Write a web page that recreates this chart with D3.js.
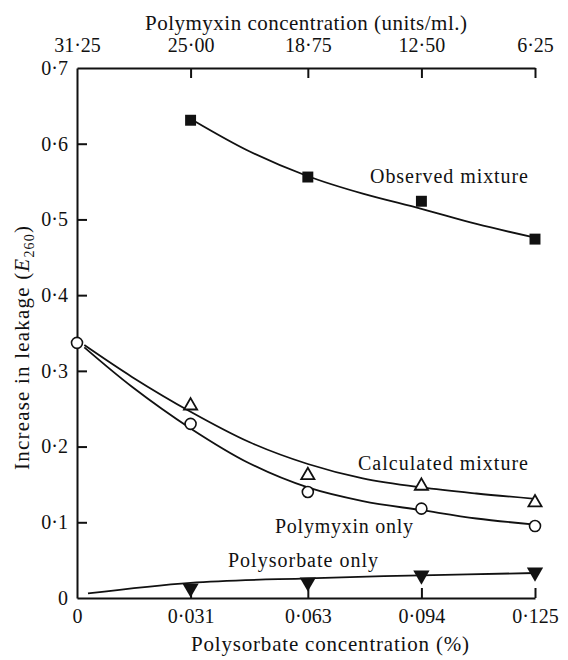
<!DOCTYPE html>
<html>
<head>
<meta charset="utf-8">
<script src="https://cdn.jsdelivr.net/npm/d3@7"></script>
<style>
  body { margin: 0; background: #fff; }
  svg { display: block; }
  svg text { font-family: "Liberation Serif", "Times New Roman", "DejaVu Serif", serif; }
</style>
</head>
<body>
<script>
// tick values and labels
const bottomTicks = [0, 0.031, 0.063, 0.094, 0.125];
const topTickLabels = ["31·25", "25·00", "18·75", "12·50", "6·25"];
const yTicks = [0, 0.1, 0.2, 0.3, 0.4, 0.5, 0.6, 0.7];

// measured points
const pointX = [0.031, 0.063, 0.094, 0.125];
const observedY = [0.631, 0.556, 0.524, 0.474];
const calculatedY = [0.254, 0.162, 0.148, 0.126];
const polymyxinX = [0, 0.031, 0.063, 0.094, 0.125];
const polymyxinY = [0.337, 0.230, 0.140, 0.118, 0.095];
const polysorbateY = [0.013, 0.021, 0.030, 0.034];

// fitted curves as drawn in the figure
const observedCurveX = [0.032, 0.047, 0.063, 0.078, 0.094, 0.109, 0.125];
const observedCurveY = [0.630, 0.590, 0.557, 0.534, 0.514, 0.494, 0.476];
const mixCurveX = [0.002, 0.015, 0.031, 0.047, 0.063, 0.078, 0.094, 0.109, 0.125];
const calculatedCurveY = [0.334, 0.292, 0.246, 0.206, 0.177, 0.158, 0.146, 0.138, 0.131];
const polymyxinCurveY = [0.331, 0.279, 0.224, 0.178, 0.146, 0.128, 0.116, 0.105, 0.097];
const polysorbateCurveX = [0.003, 0.031, 0.063, 0.094, 0.125];
const polysorbateCurveY = [0.006, 0.020, 0.026, 0.030, 0.033];

const width = 568, height = 660;
const margin = { top: 68, right: 33, bottom: 62, left: 77 };
const fmt = (v) => (v === 0 ? "0" : d3.format(".3f")(v).replace(".", "·"));
const fmtY = (v) => (v === 0 ? "0" : d3.format(".1f")(v).replace(".", "·"));

const x = d3.scaleLinear().domain([0, 0.125]).range([margin.left, width - margin.right]);
const y = d3.scaleLinear().domain([0, 0.7]).range([height - margin.bottom, margin.top]);

const svg = d3.select("body").append("svg")
  .attr("width", width)
  .attr("height", height);

const zip = (xs, ys) => xs.map((v, i) => [v, ys[i]]);
const line = d3.line().x((d) => x(d[0])).y((d) => y(d[1])).curve(d3.curveCatmullRom.alpha(0.5));

// axes
const styleAxis = (g) => {
  g.attr("font-family", null);
  g.select(".domain").attr("stroke", "#111").attr("stroke-width", 2);
  g.selectAll(".tick line").attr("stroke", "#111").attr("stroke-width", 2);
  g.selectAll(".tick text").attr("font-size", 20).attr("fill", "#111");
};

svg.append("g")
  .attr("transform", `translate(0,${y(0)})`)
  .call(d3.axisBottom(x).tickValues(bottomTicks).tickSize(-10).tickSizeOuter(0).tickPadding(11).tickFormat(fmt))
  .call(styleAxis)
  .call((g) => g.selectAll(".tick").filter((d) => d === 0).select("line").remove());

svg.append("g")
  .attr("transform", `translate(0,${y(0.7)})`)
  .call(d3.axisTop(x).tickValues(bottomTicks).tickSize(-10).tickSizeOuter(0).tickPadding(16)
    .tickFormat((d, i) => topTickLabels[i]))
  .call(styleAxis)
  .call((g) => g.selectAll(".tick").filter((d) => d === 0).select("line").remove());

svg.append("g")
  .attr("transform", `translate(${x(0)},0)`)
  .call(d3.axisLeft(y).tickValues(yTicks).tickSize(-10).tickSizeOuter(0).tickPadding(9).tickFormat(fmtY))
  .call(styleAxis)
  .call((g) => g.selectAll(".tick").filter((d) => d === 0 || d === 0.7).select("line").remove());

// axis titles
svg.append("text")
  .attr("x", 145)
  .attr("y", 30)
  .attr("font-size", 21)
  .attr("textLength", 322)
  .attr("lengthAdjust", "spacing")
  .attr("fill", "#111")
  .text("Polymyxin concentration (units/ml.)");

svg.append("text")
  .attr("x", 191)
  .attr("y", 651)
  .attr("font-size", 21)
  .attr("textLength", 278)
  .attr("lengthAdjust", "spacing")
  .attr("fill", "#111")
  .text("Polysorbate concentration (%)");

const yTitle = svg.append("text")
  .attr("transform", `translate(29,${y(0.331)}) rotate(-90)`)
  .attr("text-anchor", "middle")
  .attr("font-size", 21)
  .attr("letter-spacing", 1.2)
  .attr("fill", "#111");
yTitle.append("tspan").text("Increase in leakage (");
yTitle.append("tspan").attr("font-style", "italic").text("E");
yTitle.append("tspan").attr("font-size", 14).attr("dy", 5).text("260");
yTitle.append("tspan").attr("dy", -5).text(")");

// curves
const curves = [
  zip(observedCurveX, observedCurveY),
  zip(mixCurveX, calculatedCurveY),
  zip(mixCurveX, polymyxinCurveY),
  zip(polysorbateCurveX, polysorbateCurveY),
];
svg.append("g")
  .selectAll("path")
  .data(curves)
  .join("path")
  .attr("d", line)
  .attr("fill", "none")
  .attr("stroke", "#111")
  .attr("stroke-width", 1.8);

// markers
const sq = d3.symbol().type(d3.symbolSquare).size(120);
const tri = d3.symbol().type(d3.symbolTriangle).size(75);
const triDown = d3.symbol().type(d3.symbolTriangle).size(115);

svg.append("g").selectAll("path")
  .data(zip(pointX, observedY))
  .join("path")
  .attr("transform", (d) => `translate(${x(d[0])},${y(d[1])})`)
  .attr("d", sq)
  .attr("fill", "#111");

svg.append("g").selectAll("path")
  .data(zip(pointX, calculatedY))
  .join("path")
  .attr("transform", (d) => `translate(${x(d[0])},${y(d[1])})`)
  .attr("d", tri)
  .attr("fill", "#fff")
  .attr("stroke", "#111")
  .attr("stroke-width", 1.8);

svg.append("g").selectAll("circle")
  .data(zip(polymyxinX, polymyxinY))
  .join("circle")
  .attr("cx", (d) => x(d[0]))
  .attr("cy", (d) => y(d[1]))
  .attr("r", 5.5)
  .attr("fill", "#fff")
  .attr("stroke", "#111")
  .attr("stroke-width", 1.6);

svg.append("g").selectAll("path")
  .data(zip(pointX, polysorbateY))
  .join("path")
  .attr("transform", (d) => `translate(${x(d[0])},${y(d[1])}) rotate(180)`)
  .attr("d", triDown)
  .attr("fill", "#111");

// series labels
const labels = [
  { text: "Observed mixture", x: 370, y: 183, w: 158 },
  { text: "Calculated mixture", x: 358, y: 470, w: 170 },
  { text: "Polymyxin only", x: 275, y: 533, w: 138 },
  { text: "Polysorbate only", x: 228, y: 567, w: 150 },
];
svg.append("g")
  .selectAll("text")
  .data(labels)
  .join("text")
  .attr("x", (d) => d.x)
  .attr("y", (d) => d.y)
  .attr("font-size", 20)
  .attr("textLength", (d) => d.w)
  .attr("lengthAdjust", "spacing")
  .attr("fill", "#111")
  .text((d) => d.text);
</script>
</body>
</html>
